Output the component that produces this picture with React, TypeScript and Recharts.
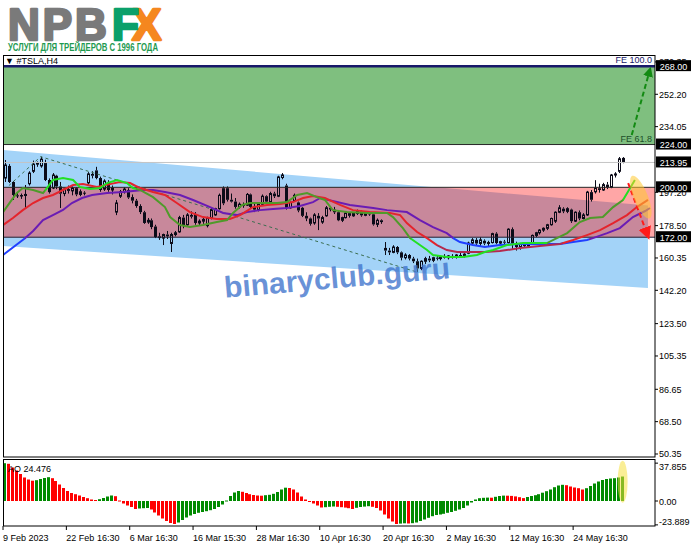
import React from 'react';
import { ComposedChart, Bar, Line, Area, XAxis, YAxis, ReferenceLine, ReferenceDot } from 'recharts';

// TSLA H4 candles: [open, high, low, close]
const CANDLES: [number, number, number, number][] = [
  [205.2, 215.3, 203.0, 212.5], [212.0, 213.0, 202.4, 203.0], [203.0, 203.5, 192.9, 195.7], [195.5, 196.8, 194.0, 195.2],
  [195.2, 196.5, 193.5, 195.4], [195.4, 201.3, 188.4, 196.0], [202.0, 209.0, 201.0, 208.0], [209.0, 215.0, 208.0, 213.0],
  [213.0, 214.5, 211.5, 213.8], [212.0, 217.2, 211.0, 215.8], [213.6, 215.5, 203.5, 204.1], [204.1, 205.0, 196.5, 197.3],
  [199.6, 208.0, 199.0, 206.9], [206.5, 207.0, 199.0, 200.5], [200.5, 203.0, 188.4, 196.5], [196.5, 199.6, 195.0, 199.0],
  [199.0, 201.0, 196.5, 198.0], [198.0, 200.5, 195.5, 199.5], [199.5, 200.0, 195.0, 196.0], [196.0, 198.8, 195.0, 197.5],
  [197.0, 197.8, 195.5, 196.8], [202.5, 208.5, 201.5, 207.5], [207.5, 209.0, 205.0, 206.5], [209.5, 211.5, 204.5, 205.2],
  [205.2, 206.0, 197.5, 198.5], [199.0, 204.5, 198.0, 203.5], [203.0, 204.0, 197.5, 198.5], [198.5, 201.0, 196.0, 199.6],
  [186.1, 192.9, 184.4, 191.2], [195.0, 198.5, 194.0, 197.5], [197.5, 200.0, 196.5, 199.0], [198.5, 199.5, 193.5, 194.3],
  [194.5, 196.0, 191.0, 192.5], [192.5, 193.5, 188.5, 189.5], [189.5, 190.5, 185.0, 186.1], [186.0, 186.8, 179.5, 180.0],
  [180.5, 182.8, 179.5, 181.5], [181.5, 182.5, 176.5, 177.7], [178.0, 179.0, 171.5, 172.1], [172.5, 174.5, 170.5, 171.5],
  [171.5, 174.0, 167.6, 173.5], [173.5, 175.5, 171.0, 172.5], [168.5, 174.5, 163.7, 173.5], [173.5, 175.5, 172.5, 174.5],
  [175.0, 184.0, 174.5, 183.0], [183.0, 184.5, 177.0, 178.5], [179.0, 185.5, 178.5, 184.5], [184.5, 186.5, 182.5, 183.5],
  [185.0, 186.1, 179.0, 180.0], [180.0, 182.0, 178.5, 181.0], [181.0, 183.0, 179.5, 182.0], [178.5, 183.5, 177.5, 182.5],
  [182.5, 188.5, 182.0, 187.5], [184.5, 188.5, 184.0, 188.0], [188.0, 196.5, 187.5, 195.5], [199.5, 200.5, 190.0, 191.0],
  [199.5, 200.5, 192.0, 193.0], [193.0, 196.5, 191.5, 192.0], [192.0, 194.0, 188.0, 189.0], [189.0, 191.5, 188.0, 190.5],
  [190.5, 191.5, 188.5, 189.5], [190.0, 196.8, 189.5, 196.0], [196.0, 196.5, 188.0, 189.0], [189.0, 191.0, 186.1, 187.5],
  [187.5, 191.5, 186.5, 190.5], [190.5, 196.0, 190.0, 195.0], [195.0, 195.5, 191.0, 192.0], [192.0, 197.5, 191.5, 196.5],
  [196.5, 197.5, 194.0, 195.0], [195.0, 206.5, 194.5, 205.8], [205.5, 208.0, 204.5, 206.9], [201.0, 202.0, 187.5, 188.5],
  [188.5, 192.0, 188.0, 191.5], [192.5, 196.5, 192.0, 195.5], [191.5, 192.0, 186.0, 187.0], [188.5, 189.0, 183.3, 184.0],
  [184.0, 186.0, 181.0, 182.5], [182.5, 183.0, 178.5, 179.5], [180.0, 185.5, 179.0, 184.5], [184.0, 185.5, 176.0, 182.5],
  [180.5, 184.0, 179.5, 183.0], [184.0, 189.5, 183.5, 188.5], [188.5, 189.5, 186.5, 187.5], [187.5, 189.0, 185.0, 186.0],
  [186.0, 187.0, 181.0, 181.5], [181.5, 183.5, 180.5, 183.0], [183.0, 186.0, 182.5, 185.5], [185.5, 186.0, 183.0, 184.0],
  [184.0, 186.0, 183.5, 185.3], [185.3, 187.5, 184.5, 186.5], [186.5, 187.0, 183.5, 184.3], [184.3, 186.0, 183.8, 185.5],
  [185.5, 186.2, 184.0, 184.8], [184.8, 185.2, 178.5, 179.2], [179.2, 182.5, 177.7, 181.5], [181.5, 182.0, 179.5, 180.5],
  [166.0, 169.3, 162.0, 164.5], [164.5, 166.0, 162.0, 163.5], [163.5, 167.5, 163.0, 166.5], [166.5, 167.0, 162.5, 163.5],
  [163.5, 164.0, 159.0, 160.5], [160.5, 163.0, 159.5, 162.0], [162.0, 162.5, 159.0, 160.0], [160.0, 161.0, 157.5, 158.5],
  [158.5, 160.0, 152.5, 154.5], [154.5, 159.0, 153.5, 158.5], [158.5, 161.0, 157.0, 160.0], [160.0, 161.5, 158.0, 159.0],
  [159.0, 161.0, 158.0, 160.5], [160.5, 162.0, 159.0, 160.0], [160.0, 161.5, 159.0, 161.0], [161.0, 162.5, 160.0, 160.5],
  [160.5, 162.0, 159.5, 161.5], [161.5, 162.5, 160.0, 160.8], [160.8, 162.5, 160.0, 162.0], [162.0, 163.5, 161.0, 161.5],
  [161.5, 163.0, 160.5, 162.5], [163.0, 169.5, 162.5, 168.7], [168.7, 171.5, 167.5, 170.5], [170.5, 171.5, 167.5, 168.5],
  [168.5, 172.0, 167.0, 170.5], [170.0, 170.8, 167.5, 168.5], [168.5, 170.0, 167.0, 169.0], [169.0, 174.5, 168.5, 174.0],
  [174.0, 174.8, 168.0, 168.7], [168.7, 170.0, 167.5, 169.5], [169.5, 170.5, 168.0, 169.0], [169.0, 177.0, 168.5, 176.5],
  [176.5, 177.5, 165.5, 168.5], [168.5, 169.5, 164.5, 166.5], [166.5, 168.8, 165.0, 168.0], [168.0, 169.0, 166.0, 167.0],
  [167.0, 169.0, 166.5, 168.5], [169.0, 173.5, 168.5, 173.0], [173.0, 175.0, 172.0, 174.5], [174.5, 176.5, 173.5, 176.0],
  [176.0, 177.5, 175.0, 177.0], [177.0, 179.5, 176.0, 179.0], [179.0, 183.0, 178.5, 182.5], [181.0, 186.5, 180.0, 186.0],
  [186.0, 190.0, 185.5, 188.5], [188.0, 188.8, 185.5, 186.5], [186.5, 188.8, 185.5, 188.0], [187.5, 188.0, 180.0, 181.0],
  [181.0, 186.5, 180.5, 186.0], [186.0, 187.0, 181.5, 182.5], [182.5, 185.5, 182.0, 184.5], [184.5, 198.0, 184.0, 197.3],
  [197.3, 198.5, 192.0, 193.0], [197.5, 204.0, 196.5, 199.5], [199.5, 202.0, 197.0, 198.5], [198.5, 202.5, 198.0, 201.5],
  [201.5, 203.0, 199.0, 200.0], [200.0, 207.5, 199.5, 206.9], [206.9, 208.5, 205.5, 207.5], [209.0, 217.0, 208.0, 216.0],
  [216.5, 217.0, 213.5, 213.95],
];

// Awesome Oscillator, one value per candle
const AO = [
  37.8, 37.2, 33.5, 30.5, 27.0, 23.5, 21.5, 20.3, 20.8, 22.0, 23.0, 23.8, 22.8, 20.0, 16.5, 13.0, 10.0, 8.0, 6.8, 5.5,
  4.0, 2.8, 1.5, 1.0, 1.8, 3.0, 4.5, 5.5, 4.8, 0.5, -2.5, -4.5, -6.0, -8.0, -7.5, -7.2, -7.0, -8.5, -11.5, -14.5,
  -17.5, -20.0, -22.0, -23.0, -21.5, -19.0, -16.5, -14.5, -13.0, -11.8, -11.0, -10.2, -9.2, -8.0, -6.0, -3.5, 0.5, 5.0, 8.5, 10.0,
  9.2, 8.0, 6.8, 6.0, 5.5, 5.3, 5.8, 6.2, 7.2, 9.0, 11.5, 13.3, 13.0, 11.5, 8.5, 4.5, 1.5, -0.5, -2.5, -4.5,
  -6.5, -6.2, -5.8, -5.5, -5.8, -6.2, -6.6, -7.2, -8.0, -6.8, -6.0, -5.6, -5.2, -5.8, -7.0, -9.5, -13.5, -17.5, -20.5, -23.0,
  -22.6, -22.3, -22.5, -22.2, -21.5, -20.0, -18.5, -16.8, -15.2, -14.0, -13.5, -12.8, -11.8, -11.0, -9.8, -8.5, -7.0, -4.5, -1.5, 1.5,
  2.8, 3.2, 3.4, 3.3, 4.2, 5.0, 5.4, 5.3, 5.1, 4.6, 3.8, 2.9, 4.0, 5.0, 5.8, 6.8, 8.3, 9.8, 11.5, 13.8,
  15.5, 16.2, 15.8, 14.5, 13.5, 12.8, 11.5, 12.8, 15.0, 17.5, 19.5, 21.0, 22.0, 22.5, 22.8, 23.5, 24.476,
];

// Alligator lines, [bar, price]
const JAW: [number, number][] = [
  [-0.5, 162.0], [5.05, 171.4], [7.1, 175.5], [9.6, 181.6], [12.1, 184.4], [14.65, 187.3], [16.9, 191.2], [19.45, 194.0],
  [22.0, 195.7], [25.8, 196.8], [29.8, 197.4], [34.9, 198.5], [37.4, 198.5], [40.4, 197.4], [44.2, 195.7], [47.5, 192.9],
  [51.8, 188.9], [55.1, 185.6], [58.6, 184.4], [61.1, 186.1], [64.4, 187.2], [67.7, 187.8], [71.2, 188.4], [74.5, 189.5],
  [77.8, 191.7], [79.6, 194.0], [87.1, 190.1], [93.0, 188.4], [96.5, 187.2], [101.5, 186.1], [104.8, 181.6], [108.1, 177.7],
  [111.6, 174.3], [113.2, 171.5], [114.9, 169.3], [118.2, 167.6], [121.2, 166.5], [125.0, 167.6], [130.1, 168.2],
  [135.1, 168.2], [140.2, 168.2], [143.5, 169.3], [147.0, 170.4], [148.5, 171.5], [152.1, 174.3], [155.3, 177.1],
  [158.6, 183.3], [161.7, 186.7], [162.9, 188.4],
];
const TEETH: [number, number][] = [
  [-0.5, 178.8], [2.0, 182.8], [4.5, 187.2], [7.1, 191.2], [9.6, 194.0], [12.1, 195.7], [14.65, 198.5], [17.2, 201.3],
  [19.7, 201.8], [23.2, 200.2], [26.5, 201.8], [29.0, 203.0], [31.6, 202.4], [34.1, 199.6], [37.4, 197.4], [40.4, 195.7],
  [43.4, 191.2], [46.7, 186.1], [50.0, 183.3], [53.5, 182.2], [56.8, 182.2], [59.4, 184.4], [62.6, 188.9], [66.2, 190.1],
  [69.5, 190.6], [72.7, 191.7], [75.3, 194.0], [77.8, 195.1], [80.8, 194.0], [84.6, 190.1], [87.9, 187.2], [92.2, 186.1],
  [97.2, 185.6], [99.8, 184.4], [101.5, 179.9], [104.1, 174.9], [106.6, 171.5], [109.1, 167.6], [111.6, 164.8],
  [114.2, 163.7], [116.7, 163.7], [121.2, 163.7], [125.0, 164.2], [130.1, 165.9], [135.1, 167.0], [140.2, 168.2],
  [143.5, 170.4], [147.0, 173.2], [150.3, 176.0], [153.6, 179.9], [157.1, 184.4], [159.6, 188.9], [162.4, 192.9],
];
const LIPS: [number, number][] = [
  [-0.5, 186.1], [1.3, 191.7], [3.0, 196.8], [4.5, 199.6], [7.1, 198.5], [9.6, 196.8], [10.6, 199.6], [12.1, 204.1],
  [14.65, 205.2], [17.2, 204.1], [18.9, 200.2], [21.5, 199.0], [24.0, 199.6], [25.8, 202.4], [28.3, 204.1], [30.8, 202.4],
  [32.3, 199.6], [34.1, 198.5], [37.4, 194.5], [40.4, 188.9], [41.7, 183.3], [44.2, 178.8], [46.7, 177.7], [50.0, 178.8],
  [53.5, 180.5], [56.1, 181.6], [57.6, 185.6], [59.9, 190.1], [61.9, 191.2], [65.2, 191.2], [68.7, 191.2], [71.2, 191.7],
  [73.8, 195.7], [76.3, 196.8], [78.8, 194.5], [80.8, 192.9], [82.8, 187.2], [86.4, 186.1], [91.4, 185.6], [96.5, 185.6],
  [98.0, 183.3], [100.5, 177.1], [102.3, 171.5], [104.8, 167.6], [106.6, 164.8], [108.1, 162.0], [111.6, 160.9],
  [115.7, 160.9], [119.2, 162.0], [121.2, 163.7], [123.3, 164.8], [126.8, 167.6], [130.8, 168.7], [134.4, 168.7],
  [136.9, 168.7], [139.4, 171.5], [142.0, 174.3], [145.2, 180.5], [147.8, 182.8], [151.0, 183.3], [153.6, 188.9],
  [156.1, 192.9], [157.9, 199.6], [159.1, 204.1],
];

// colour changes along each line, [from bar, colour]
const JAW_COLORS: [number, string][] = [[-0.5, '#2040ff'], [5.05, '#6a1cb4'], [113.2, '#2040ff'], [147.5, '#6a1cb4']];
const TEETH_COLORS: [number, string][] = [[-0.5, '#e4242c'], [109, '#b42a4e'], [141, '#e4242c']];
const LIPS_COLORS: [number, string][] = [
  [-0.5, '#4f9a2a'], [10, '#22e022'], [33, '#4f9a2a'], [102.5, '#22e022'], [137, '#4f9a2a'], [156, '#22e022'],
];

// fibo expansion legs and levels
const FE_PATH: [number, number][] = [[1, 201.0], [9, 217.2], [104, 152.5]];
const FE_LEVELS = [224, 268];
const SR_ZONE = [172, 200];
const BID = 213.95;

// price channel: [bar, lower, upper]
const CHANNEL: [number, number, number][] = [[-0.5, 167.0, 220.9], [162.4, 143.5, 189.8]];

const ARROW_DOWN: [number, number][] = [[157.4, 202.4], [162.4, 172.6]];
const ARROW_UP: [number, number][] = [[158.3, 229.3], [162.9, 266.0]];

const TIME_BARS = [0, 16, 32, 48, 64, 80, 96, 112, 128, 144];
const TIME_TEXT = [
  '9 Feb 2023', '22 Feb 16:30', '6 Mar 16:30', '16 Mar 15:30', '28 Mar 16:30',
  '10 Apr 16:30', '20 Apr 16:30', '2 May 16:30', '12 May 16:30', '24 May 16:30',
];

const PRICE_TICKS = [50.35, 68.5, 86.65, 105.35, 123.5, 142.2, 160.35, 178.5, 197.2, 234.05, 252.2, 270.35];
const PRICE_BOXES = [268, 224, 213.95, 200, 172];
const AO_TICKS = [37.855, 0, -23.889];

const X_DOMAIN: [number, number] = [-0.505, 164.18];
const PRICE_DOMAIN: [number, number] = [48.66, 274.25];
const AO_DOMAIN: [number, number] = [-25, 40];

const INK = '#0b0b18';
const FONT = '"Liberation Sans", Arial, sans-serif';

const candleData = CANDLES.map(([o, h, l, c], i) => ({ i, o, h, l, c }));
const aoData = AO.map((v, i) => ({ i, v, up: i === 0 || v >= AO[i - 1] }));
const toPts = (arr: [number, number][]) => arr.map(([i, p]) => ({ i, p }));

const greenZone = [{ i: X_DOMAIN[0], z: FE_LEVELS }, { i: X_DOMAIN[1], z: FE_LEVELS }];
const pinkZone = [{ i: X_DOMAIN[0], z: SR_ZONE }, { i: X_DOMAIN[1], z: SR_ZONE }];
const channelData = CHANNEL.map(([i, lo, hi]) => ({ i, z: [lo, hi] }));
// part of the zone that lies inside the channel
const [cL, cR] = CHANNEL;
const iCross = cL[0] + ((cR[0] - cL[0]) * (cL[2] - SR_ZONE[1])) / (cL[2] - cR[2]);
const overlapData = [
  { i: cL[0], z: [SR_ZONE[0], SR_ZONE[1]] },
  { i: iCross, z: [SR_ZONE[0], SR_ZONE[1]] },
  { i: cR[0], z: [SR_ZONE[0], cR[2]] },
];

function gradStops(pts: [number, number][], segs: [number, string][]) {
  const a = pts[0][0];
  const b = pts[pts.length - 1][0];
  const f = (v: number) => Math.min(1, Math.max(0, (v - a) / (b - a)));
  const out: React.ReactElement[] = [];
  segs.forEach(([s, col], k) => {
    const e = k + 1 < segs.length ? segs[k + 1][0] : b;
    out.push(<stop key={`${k}a`} offset={f(s)} stopColor={col} />);
    out.push(<stop key={`${k}b`} offset={f(e)} stopColor={col} />);
  });
  return out;
}

function Candle(props: any) {
  const { x, y, width, height, payload } = props;
  if (x == null || !payload) return null;
  const top = Math.min(y, y + height);
  const bot = Math.max(y, y + height);
  const { o, h, l, c } = payload;
  const px = (v: number) => top + ((h - v) / (h - l)) * (bot - top);
  const cx = Math.round(x + width / 2);
  const bTop = px(Math.max(o, c));
  const bBot = px(Math.min(o, c));
  const bull = c >= o;
  return (
    <g>
      <line x1={cx + 0.5} x2={cx + 0.5} y1={top} y2={bTop} stroke={INK} />
      <line x1={cx + 0.5} x2={cx + 0.5} y1={bBot} y2={bot} stroke={INK} />
      {bull ? (
        <rect x={cx - 0.5} y={bTop} width={2} height={Math.max(bBot - bTop, 0.5)} fill="none" stroke={INK} />
      ) : (
        <rect x={cx - 1} y={bTop} width={3} height={Math.max(bBot - bTop, 1)} fill={INK} />
      )}
    </g>
  );
}

function AoBar(props: any) {
  const { x, y, width, height, payload } = props;
  if (x == null || !payload) return null;
  const top = Math.min(y, y + height);
  const h = Math.max(Math.abs(height), 1);
  return <rect x={Math.round(x)} y={top} width={3} height={h} fill={payload.up ? '#008a00' : '#ff0000'} />;
}

function PriceTick(props: any) {
  const { x, y, payload } = props;
  const v = payload.value;
  if (PRICE_BOXES.includes(v)) {
    return (
      <g>
        <rect x={x + 1} y={y - 6} width={35} height={11} fill="#000" />
        <text x={x + 18.5} y={y + 3.5} textAnchor="middle" fill="#fff" fontSize={9} fontFamily={FONT}>
          {v.toFixed(2)}
        </text>
      </g>
    );
  }
  return (
    <g>
      <line x1={x} x2={x + 3} y1={y} y2={y} stroke="#000" />
      <text x={x + 4} y={y + 3.5} fill="#000" fontSize={9} fontFamily={FONT}>
        {v.toFixed(2)}
      </text>
    </g>
  );
}

function AoTick(props: any) {
  const { x, y, payload } = props;
  const v = payload.value;
  const dy = v > 0 ? 7 : v < 0 ? 0 : 4;
  return (
    <g>
      <line x1={x} x2={x + 3} y1={y} y2={y} stroke="#000" />
      <text x={x + 4} y={y + dy} fill="#000" fontSize={9} fontFamily={FONT}>
        {v === 0 ? '0.00' : v.toFixed(3)}
      </text>
    </g>
  );
}

function TimeTick(props: any) {
  const { x, y, payload } = props;
  const k = TIME_BARS.findIndex((b) => Math.abs(b - 0.5 - payload.value) < 1e-6);
  return (
    <g>
      <line x1={x} x2={x} y1={y} y2={y + 4} stroke="#000" />
      <text x={x} y={y + 15} fill="#000" fontSize={9} fontFamily={FONT}>
        {k >= 0 ? TIME_TEXT[k] : ''}
      </text>
    </g>
  );
}

const MouthBlob = (p: any) => (
  <ellipse cx={p.cx} cy={p.cy} rx={7} ry={23} transform={`rotate(-22 ${p.cx} ${p.cy})`} fill="#ffc830" fillOpacity={0.55} />
);
const AoGlow = (p: any) => <ellipse cx={p.cx} cy={p.cy} rx={5} ry={21} fill="#f5e040" fillOpacity={0.55} />;

export default function App() {
  return (
    <div style={{ position: 'absolute', left: 0, top: 0, width: 691, height: 549, background: '#fff', fontFamily: FONT }}>
      <svg width={0} height={0} style={{ position: 'absolute' }}>
        <defs>
          <linearGradient id="jawGrad" x1="0" y1="0" x2="1" y2="0">{gradStops(JAW, JAW_COLORS)}</linearGradient>
          <linearGradient id="teethGrad" x1="0" y1="0" x2="1" y2="0">{gradStops(TEETH, TEETH_COLORS)}</linearGradient>
          <linearGradient id="lipsGrad" x1="0" y1="0" x2="1" y2="0">{gradStops(LIPS, LIPS_COLORS)}</linearGradient>
          <marker id="headRed" viewBox="0 0 10 10" refX="7" refY="5" markerWidth="13" markerHeight="13" markerUnits="userSpaceOnUse" orient="auto">
            <path d="M0,0 L10,5 L0,10 z" fill="#ff1a1a" />
          </marker>
          <marker id="headGreen" viewBox="0 0 10 10" refX="7" refY="5" markerWidth="10" markerHeight="10" markerUnits="userSpaceOnUse" orient="auto">
            <path d="M0,0 L10,5 L0,10 z" fill="#138a13" />
          </marker>
        </defs>
      </svg>

      <div style={{ position: 'absolute', left: 0, top: 0 }}>
        <ComposedChart width={691} height={460} data={candleData} margin={{ top: 55, right: 0, bottom: 3, left: 3 }}>
          <XAxis type="number" dataKey="i" domain={X_DOMAIN} allowDataOverflow hide />
          <YAxis
            orientation="right"
            type="number"
            domain={PRICE_DOMAIN}
            allowDataOverflow
            width={36}
            ticks={[...PRICE_TICKS, ...PRICE_BOXES]}
            interval={0}
            tick={(p: any) => <PriceTick {...p} />}
            axisLine={false}
            tickLine={false}
            tickSize={0}
            tickMargin={0}
          />
          <Area data={greenZone} dataKey="z" type="linear" stroke="none" fill="#7fbf7f" fillOpacity={1} dot={false} activeDot={false} isAnimationActive={false} />
          <Area data={channelData} dataKey="z" type="linear" stroke="none" fill="#a3d3f8" fillOpacity={1} dot={false} activeDot={false} isAnimationActive={false} />
          <Area data={pinkZone} dataKey="z" type="linear" stroke="none" fill="#ffa6a6" fillOpacity={1} dot={false} activeDot={false} isAnimationActive={false} />
          <Area data={overlapData} dataKey="z" type="linear" stroke="none" fill="#c8889b" fillOpacity={1} dot={false} activeDot={false} isAnimationActive={false} />
          <ReferenceLine y={BID} stroke="#c4c4c4" />
          <ReferenceLine
            y={FE_LEVELS[1]}
            stroke="#18186a"
            strokeWidth={2.5}
            label={{ value: 'FE 100.0', position: 'insideBottomRight', fill: '#18186a', fontSize: 9, offset: 3 }}
          />
          <ReferenceLine
            y={FE_LEVELS[0]}
            stroke="#262626"
            label={{ value: 'FE 61.8', position: 'insideBottomRight', fill: '#1d4f2a', fontSize: 9, offset: 3 }}
          />
          <ReferenceLine y={SR_ZONE[1]} stroke="#262626" />
          <ReferenceLine y={SR_ZONE[0]} stroke="#1c2238" />
          <Line data={toPts(FE_PATH)} dataKey="p" type="linear" stroke="#3b6e50" strokeDasharray="3 3" strokeWidth={1} dot={false} activeDot={false} isAnimationActive={false} />
          <Bar dataKey={(d: any) => [d.l, d.h]} barSize={3} shape={(p: any) => <Candle {...p} />} isAnimationActive={false} />
          <Line data={toPts(JAW)} dataKey="p" type="linear" stroke="url(#jawGrad)" strokeWidth={2} dot={false} activeDot={false} isAnimationActive={false} />
          <Line data={toPts(TEETH)} dataKey="p" type="linear" stroke="url(#teethGrad)" strokeWidth={2} dot={false} activeDot={false} isAnimationActive={false} />
          <Line data={toPts(LIPS)} dataKey="p" type="linear" stroke="url(#lipsGrad)" strokeWidth={2} dot={false} activeDot={false} isAnimationActive={false} />
          <ReferenceDot x={160.6} y={194.5} r={1} shape={MouthBlob} />
          <Line data={toPts(ARROW_DOWN)} dataKey="p" type="linear" stroke="#ff1a1a" strokeWidth={2} strokeDasharray="5 3" markerEnd="url(#headRed)" dot={false} activeDot={false} isAnimationActive={false} />
          <Line data={toPts(ARROW_UP)} dataKey="p" type="linear" stroke="#138a13" strokeWidth={2} strokeDasharray="5 3" markerEnd="url(#headGreen)" dot={false} activeDot={false} isAnimationActive={false} />
        </ComposedChart>
      </div>

      <div style={{ position: 'absolute', left: 0, top: 459 }}>
        <ComposedChart width={691} height={90} data={aoData} margin={{ top: 2, right: 0, bottom: 0, left: 3 }}>
          <XAxis
            type="number"
            dataKey="i"
            domain={X_DOMAIN}
            allowDataOverflow
            ticks={TIME_BARS.map((b) => b - 0.5)}
            interval={0}
            tick={(p: any) => <TimeTick {...p} />}
            height={23}
            axisLine={false}
            tickLine={false}
            tickSize={0}
            tickMargin={0}
          />
          <YAxis
            orientation="right"
            type="number"
            domain={AO_DOMAIN}
            allowDataOverflow
            width={36}
            ticks={AO_TICKS}
            interval={0}
            tick={(p: any) => <AoTick {...p} />}
            axisLine={false}
            tickLine={false}
            tickSize={0}
            tickMargin={0}
          />
          <Bar dataKey="v" barSize={3} shape={(p: any) => <AoBar {...p} />} isAnimationActive={false} />
          <ReferenceDot x={AO.length - 1} y={AO[AO.length - 1] / 2 + 7} r={1} shape={AoGlow} />
        </ComposedChart>
      </div>

      <svg width={691} height={549} style={{ position: 'absolute', left: 0, top: 0, pointerEvents: 'none' }}>
        {/* panel frames */}
        <rect x={3.5} y={55.5} width={651.5} height={401.5} fill="none" stroke="#000" />
        <rect x={3.5} y={459.5} width={651.5} height={66.5} fill="none" stroke="#000" />
        <text x={5} y={64} fontSize={9} fill="#000">▼ #TSLA,H4</text>
        <text x={8} y={472} fontSize={9} fill="#000">{`AO ${AO[AO.length - 1]}`}</text>

        {/* logo */}
        <text x={8} y={40} fontSize={44} fontWeight="bold" fill="#7a7a7a" stroke="#7a7a7a" strokeWidth={2.5} strokeLinejoin="round" letterSpacing={3}>
          NPB
        </text>
        <text x={132} y={40} fontSize={44} fontWeight="bold" fill="#f5871f" stroke="#f5871f" strokeWidth={2.5} strokeLinejoin="round">
          X
        </text>
        <text x={112} y={40} fontSize={44} fontWeight="bold" fill="#0aa06a" stroke="#0aa06a" strokeWidth={2.5} strokeLinejoin="round">
          F
        </text>
        <text x={8} y={51} fontSize={10} fontWeight="bold" fill="#1e9a50" textLength={150} lengthAdjust="spacingAndGlyphs">
          УСЛУГИ ДЛЯ ТРЕЙДЕРОВ С 1996 ГОДА
        </text>

        {/* watermark */}
        <text
          x={337}
          y={288}
          textAnchor="middle"
          fontSize={30}
          fontWeight="bold"
          fill="#3f74cc"
          fillOpacity={0.78}
          transform="rotate(-5 337 278)"
        >
          binaryclub.guru
        </text>
      </svg>
    </div>
  );
}
